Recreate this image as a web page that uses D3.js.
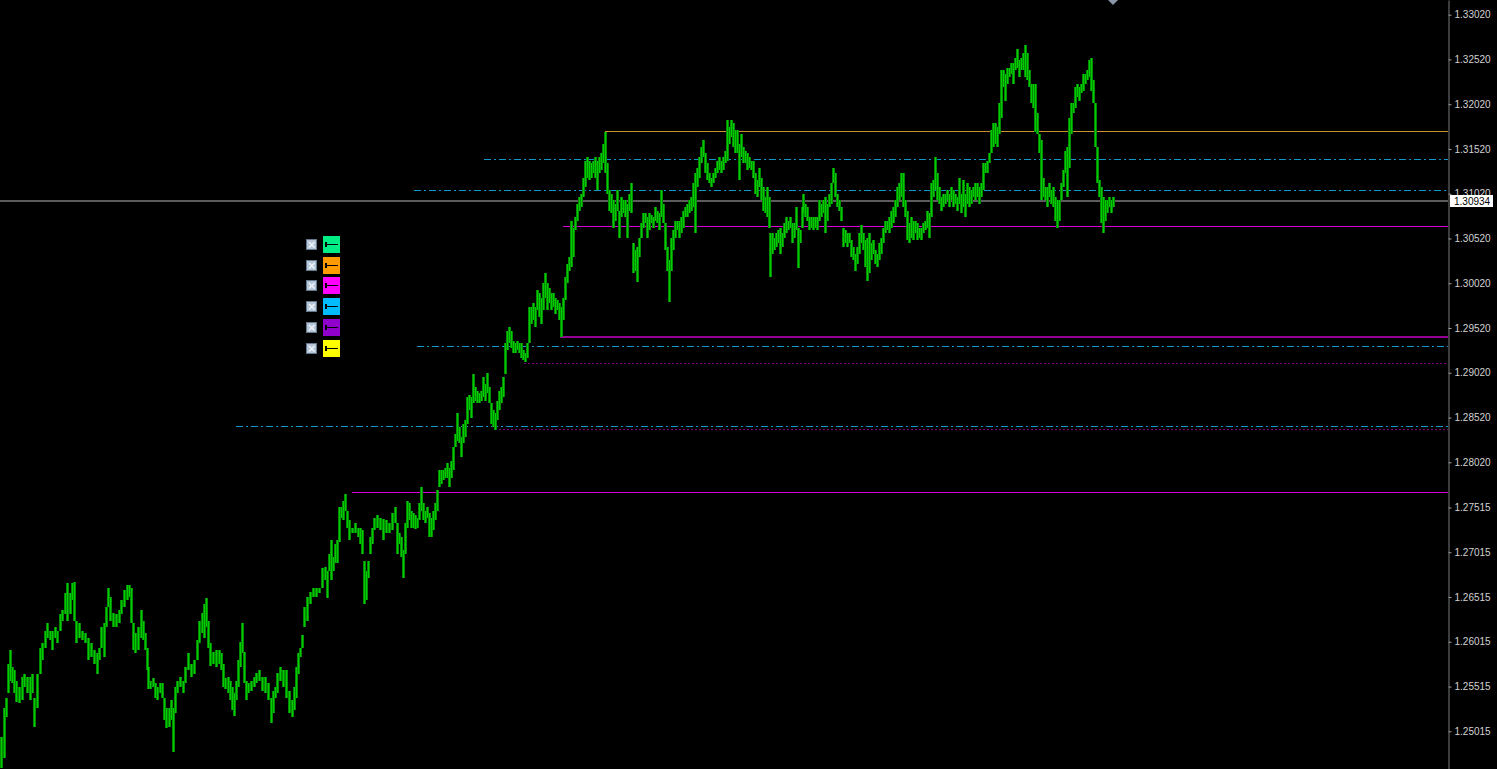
<!DOCTYPE html>
<html>
<head>
<meta charset="utf-8">
<script src="https://cdn.jsdelivr.net/npm/d3@7"></script>
<style>
  html, body { margin: 0; padding: 0; background: #000; overflow: hidden; }
  svg { display: block; }
</style>
</head>
<body>
<script>
// bar times (bar offset from the left edge of the window), highs and lows
var barTime = [
  1,4,6,8,10,12,14,16,19,22,
  24,27,30,32,34,37,40,42,45,47,
  50,52,55,57,60,62,65,67,70,72,
  74,76,79,82,85,88,91,94,97,99,
  101,104,106,108,110,113,116,119,121,124,
  127,129,131,133,135,138,141,143,145,147,
  148,150,153,155,157,160,162,164,166,169,
  171,173,175,177,180,183,185,188,191,194,
  197,199,202,204,206,208,210,213,216,219,
  221,223,225,228,230,232,234,236,238,240,
  242,244,246,248,251,254,256,259,262,265,
  268,271,273,275,277,280,283,286,289,292,
  294,296,298,300,302,304,307,310,313,316,
  319,322,325,327,329,331,333,335,337,339,
  341,343,345,347,349,352,355,358,
  360,362,364,366,368,370,372,374,377,380,
  383,386,389,392,395,397,399,401,403,405,
  407,409,411,413,415,417,419,421,423,425,
  427,429,431,433,435,437,439,441,443,445,
  447,449,451,453,455,457,459,461,463,465,
  467,469,471,473,475,477,479,481,483,485,
  487,489,491,493,495,497,499,501,503,505,
  507,509,511,513,515,517,519,521,523,525,
  527,529,531,533,535,537,539,541,543,545,
  547,549,551,553,555,557,559,561,563,565,
  567,569,571,573,575,577,579,581,583,585,
  587,589,591,593,595,597,599,601,603,605,
  607,609,611,613,615,617,619,621,623,625,
  627,629,631,633,635,637,639,641,643,645,
  647,649,651,653,655,657,659,661,663,665,
  667,669,671,673,675,677,679,681,683,685,
  687,689,691,693,695,697,699,701,703,705,
  707,709,711,713,715,717,719,721,723,725,
  727,729,731,733,735,737,739,741,743,745,
  747,749,751,753,755,757,759,761,763,765,
  767,769,770,772,774,776,778,780,782,784,
  786,788,790,792,794,796,798,800,802,803,
  805,807,809,811,813,815,817,819,821,823,
  825,827,829,831,833,835,837,839,841,843,
  845,847,849,851,853,855,857,859,861,863,
  865,867,869,871,873,875,877,879,881,883,
  885,887,889,891,893,895,897,899,901,903,
  905,907,909,911,913,915,917,919,921,923,
  925,927,929,931,933,935,937,939,941,943,
  945,947,949,951,953,955,957,959,961,963,
  965,967,969,971,973,975,977,979,981,983,
  985,987,989,991,993,995,997,999,1001,1003,
  1005,1007,1009,1011,1013,1015,1017,1019,1021,1023,
  1025,1027,1029,1031,1033,1035,1037,1039,1041,1043,
  1045,1047,1049,1051,1053,1055,1057,1059,1061,1063,
  1065,1067,1069,1071,1073,1075,1077,1079,1081,1083,
  1085,1087,1089,1091,1093,1095,1097,1099,1101,1103,
  1105,1107,1109,1111,1113
];

var barHigh = [
  1.2495,1.2528,1.2539,1.2577,1.2592,1.2573,1.2570,1.2558,1.2551,1.2562,
  1.2566,1.2562,1.2562,1.2566,1.2539,1.2566,1.2595,1.2600,1.2614,1.2622,
  1.2614,1.2614,1.2618,1.2614,1.2633,1.2637,1.2656,1.2667,1.2656,1.2667,
  1.2668,1.2625,1.2622,1.2614,1.2611,1.2606,1.2600,1.2592,1.2589,1.2595,
  1.2618,1.2622,1.2640,1.2662,1.2651,1.2634,1.2633,1.2637,1.2648,1.2659,
  1.2665,1.2665,1.2662,1.2622,1.2611,1.2618,1.2637,1.2625,1.2611,1.2595,
  1.2573,1.2558,1.2561,1.2555,1.2551,1.2556,1.2556,1.2539,1.2528,1.2528,
  1.2536,1.2528,1.2551,1.2558,1.2562,1.2558,1.2573,1.2589,1.2577,1.2581,
  1.2603,1.2625,1.2634,1.2644,1.2650,1.2625,1.2600,1.2590,1.2592,1.2592,
  1.2589,1.2577,1.2561,1.2562,1.2558,1.2551,1.2544,1.2558,1.2581,1.2601,
  1.2623,1.2590,1.2558,1.2556,1.2558,1.2562,1.2567,1.2570,1.2562,1.2562,
  1.2555,1.2539,1.2547,1.2551,1.2567,1.2573,1.2570,1.2570,1.2547,1.2536,
  1.2551,1.2573,1.2589,1.2595,1.2609,1.2640,1.2651,1.2657,1.2662,1.2662,
  1.2662,1.2684,1.2685,1.2681,1.2700,1.2715,1.2696,1.2711,1.2715,1.2752,
  1.2752,1.2759,1.2767,1.2748,1.2737,1.2729,1.2734,1.2729,
  1.2729,1.2726,1.2692,1.2681,1.2692,1.2718,1.2729,1.2740,1.2743,1.2740,
  1.2739,1.2737,1.2734,1.2745,1.2752,1.2734,1.2723,1.2718,1.2704,1.2734,
  1.2759,1.2756,1.2748,1.2745,1.2743,1.2740,1.2756,1.2774,1.2756,1.2748,
  1.2752,1.2745,1.2740,1.2748,1.2756,1.2771,1.2793,1.2793,1.2793,1.2796,
  1.2801,1.2796,1.2804,1.2819,1.2834,1.2857,1.2841,1.2830,1.2845,1.2849,
  1.2875,1.2877,1.2875,1.2901,1.2886,1.2882,1.2879,1.2882,1.2897,1.2890,
  1.2902,1.2886,1.2868,1.2860,1.2857,1.2871,1.2882,1.2886,1.2897,1.2935,
  1.2949,1.2953,1.2949,1.2938,1.2935,1.2938,1.2935,1.2935,1.2927,1.2924,
  1.2935,1.2975,1.2975,1.2980,1.2975,1.2994,1.2991,1.2986,1.3002,1.3013,
  1.3002,1.2997,1.2991,1.2991,1.2986,1.2983,1.2980,1.2975,1.2986,1.3009,
  1.3024,1.3031,1.3072,1.3064,1.3076,1.3091,1.3098,1.3102,1.3120,1.3139,
  1.3143,1.3139,1.3136,1.3139,1.3143,1.3139,1.3143,1.3147,1.3158,1.3171,
  1.3136,1.3106,1.3102,1.3095,1.3091,1.3106,1.3083,1.3098,1.3095,1.3095,
  1.3091,1.3102,1.3114,1.3047,1.3039,1.3042,1.3053,1.3069,1.3080,1.3080,
  1.3076,1.3080,1.3078,1.3076,1.3087,1.3083,1.3080,1.3106,1.3091,1.3069,
  1.3042,1.3028,1.3053,1.3061,1.3072,1.3072,1.3072,1.3076,1.3083,1.3087,
  1.3091,1.3095,1.3098,1.3114,1.3125,1.3131,1.3143,1.3154,1.3162,1.3147,
  1.3136,1.3125,1.3120,1.3125,1.3131,1.3139,1.3143,1.3139,1.3143,1.3150,
  1.3184,1.3176,1.3184,1.3181,1.3173,1.3173,1.3158,1.3169,1.3154,1.3150,
  1.3147,1.3143,1.3139,1.3139,1.3125,1.3117,1.3131,1.3120,1.3109,1.3098,
  1.3109,1.3098,1.3058,1.3058,1.3053,1.3058,1.3061,1.3064,1.3058,1.3069,
  1.3076,1.3072,1.3076,1.3069,1.3069,1.3087,1.3064,1.3061,1.3087,1.3102,
  1.3091,1.3087,1.3076,1.3076,1.3076,1.3076,1.3076,1.3095,1.3091,1.3095,
  1.3098,1.3091,1.3102,1.3114,1.3131,1.3125,1.3102,1.3095,1.3087,1.3064,
  1.3061,1.3058,1.3058,1.3050,1.3042,1.3035,1.3042,1.3058,1.3067,1.3058,
  1.3050,1.3053,1.3058,1.3047,1.3050,1.3039,1.3035,1.3047,1.3053,1.3064,
  1.3072,1.3072,1.3076,1.3083,1.3087,1.3095,1.3109,1.3114,1.3125,1.3125,
  1.3095,1.3083,1.3069,1.3076,1.3072,1.3072,1.3069,1.3064,1.3064,1.3069,
  1.3072,1.3083,1.3080,1.3114,1.3117,1.3143,1.3125,1.3109,1.3098,1.3102,
  1.3102,1.3106,1.3102,1.3109,1.3106,1.3102,1.3098,1.3120,1.3102,1.3117,
  1.3102,1.3114,1.3109,1.3106,1.3109,1.3114,1.3114,1.3109,1.3114,1.3136,
  1.3136,1.3139,1.3147,1.3173,1.3181,1.3181,1.3176,1.3203,1.3240,1.3240,
  1.3236,1.3243,1.3243,1.3248,1.3248,1.3254,1.3264,1.3251,1.3254,1.3259,
  1.3268,1.3259,1.3240,1.3225,1.3225,1.3225,1.3192,1.3169,1.3162,1.3120,
  1.3109,1.3109,1.3114,1.3106,1.3109,1.3098,1.3095,1.3095,1.3114,1.3128,
  1.3150,1.3154,1.3187,1.3203,1.3203,1.3221,1.3225,1.3221,1.3225,1.3236,
  1.3236,1.3240,1.3251,1.3254,1.3229,1.3203,1.3154,1.3117,1.3109,1.3098,
  1.3095,1.3095,1.3098,1.3095,1.3098
];

var barLow = [
  1.2461,1.2472,1.2517,1.2544,1.2558,1.2555,1.2544,1.2534,1.2533,1.2536,
  1.2551,1.2544,1.2536,1.2544,1.2506,1.2528,1.2566,1.2581,1.2595,1.2606,
  1.2603,1.2592,1.2606,1.2600,1.2614,1.2625,1.2633,1.2625,1.2633,1.2648,
  1.2625,1.2600,1.2606,1.2603,1.2600,1.2581,1.2584,1.2577,1.2566,1.2581,
  1.2595,1.2584,1.2618,1.2640,1.2625,1.2618,1.2618,1.2622,1.2633,1.2640,
  1.2648,1.2651,1.2622,1.2592,1.2589,1.2592,1.2606,1.2603,1.2592,1.2570,
  1.2549,1.2549,1.2551,1.2539,1.2536,1.2544,1.2539,1.2514,1.2505,1.2506,
  1.2514,1.2478,1.2522,1.2544,1.2551,1.2544,1.2555,1.2570,1.2562,1.2566,
  1.2581,1.2600,1.2611,1.2606,1.2618,1.2595,1.2575,1.2577,1.2573,1.2577,
  1.2570,1.2551,1.2549,1.2544,1.2536,1.2525,1.2519,1.2536,1.2551,1.2573,
  1.2589,1.2555,1.2536,1.2544,1.2547,1.2551,1.2555,1.2558,1.2547,1.2544,
  1.2536,1.2511,1.2522,1.2539,1.2544,1.2558,1.2551,1.2539,1.2522,1.2517,
  1.2525,1.2539,1.2566,1.2584,1.2595,1.2618,1.2625,1.2644,1.2651,1.2651,
  1.2656,1.2662,1.2670,1.2650,1.2681,1.2670,1.2681,1.2689,1.2689,1.2713,
  1.2740,1.2737,1.2748,1.2729,1.2715,1.2723,1.2723,1.2718,
  1.2711,1.2700,1.2644,1.2648,1.2673,1.2700,1.2711,1.2726,1.2729,1.2726,
  1.2715,1.2723,1.2723,1.2726,1.2734,1.2700,1.2711,1.2696,1.2673,1.2700,
  1.2729,1.2737,1.2729,1.2729,1.2728,1.2729,1.2737,1.2748,1.2737,1.2734,
  1.2740,1.2718,1.2718,1.2726,1.2737,1.2748,1.2774,1.2778,1.2782,1.2785,
  1.2785,1.2774,1.2785,1.2793,1.2819,1.2826,1.2823,1.2808,1.2823,1.2830,
  1.2845,1.2860,1.2852,1.2868,1.2871,1.2868,1.2868,1.2871,1.2875,1.2871,
  1.2879,1.2868,1.2845,1.2841,1.2838,1.2849,1.2860,1.2868,1.2875,1.2901,
  1.2927,1.2935,1.2930,1.2924,1.2924,1.2927,1.2924,1.2919,1.2916,1.2914,
  1.2919,1.2935,1.2957,1.2961,1.2953,1.2972,1.2964,1.2957,1.2972,1.2986,
  1.2972,1.2980,1.2972,1.2975,1.2968,1.2972,1.2961,1.2942,1.2961,1.2983,
  1.3002,1.3016,1.3020,1.3031,1.3061,1.3072,1.3083,1.3087,1.3098,1.3109,
  1.3120,1.3117,1.3120,1.3125,1.3120,1.3106,1.3125,1.3128,1.3136,1.3125,
  1.3102,1.3083,1.3080,1.3064,1.3072,1.3083,1.3053,1.3076,1.3080,1.3076,
  1.3053,1.3083,1.3080,1.3013,1.3016,1.3003,1.3031,1.3053,1.3064,1.3069,
  1.3053,1.3061,1.3069,1.3064,1.3072,1.3069,1.3061,1.3076,1.3069,1.3039,
  1.3016,1.2981,1.3016,1.3039,1.3053,1.3061,1.3053,1.3058,1.3064,1.3076,
  1.3076,1.3080,1.3083,1.3087,1.3058,1.3109,1.3120,1.3136,1.3143,1.3125,
  1.3117,1.3114,1.3109,1.3114,1.3120,1.3125,1.3128,1.3125,1.3128,1.3136,
  1.3139,1.3158,1.3165,1.3154,1.3147,1.3147,1.3117,1.3143,1.3136,1.3136,
  1.3128,1.3131,1.3128,1.3120,1.3102,1.3098,1.3109,1.3095,1.3083,1.3080,
  1.3076,1.3064,1.3009,1.3035,1.3039,1.3042,1.3047,1.3035,1.3042,1.3053,
  1.3058,1.3061,1.3064,1.3047,1.3053,1.3061,1.3019,1.3047,1.3064,1.3080,
  1.3076,1.3072,1.3061,1.3064,1.3061,1.3064,1.3061,1.3072,1.3076,1.3080,
  1.3058,1.3072,1.3087,1.3091,1.3114,1.3098,1.3087,1.3083,1.3072,1.3042,
  1.3047,1.3042,1.3047,1.3031,1.3028,1.3016,1.3024,1.3035,1.3047,1.3039,
  1.3020,1.3005,1.3013,1.3028,1.3035,1.3024,1.3020,1.3028,1.3035,1.3047,
  1.3058,1.3061,1.3058,1.3064,1.3069,1.3076,1.3087,1.3095,1.3098,1.3087,
  1.3076,1.3050,1.3047,1.3053,1.3050,1.3058,1.3050,1.3053,1.3050,1.3058,
  1.3061,1.3064,1.3053,1.3076,1.3098,1.3106,1.3095,1.3091,1.3083,1.3087,
  1.3091,1.3095,1.3087,1.3095,1.3087,1.3091,1.3083,1.3091,1.3080,1.3087,
  1.3076,1.3091,1.3087,1.3091,1.3098,1.3095,1.3098,1.3091,1.3098,1.3106,
  1.3125,1.3125,1.3136,1.3147,1.3154,1.3158,1.3154,1.3169,1.3187,1.3221,
  1.3206,1.3225,1.3232,1.3236,1.3225,1.3240,1.3243,1.3232,1.3240,1.3240,
  1.3232,1.3229,1.3221,1.3203,1.3198,1.3171,1.3169,1.3147,1.3095,1.3098,
  1.3095,1.3087,1.3098,1.3091,1.3087,1.3072,1.3064,1.3072,1.3095,1.3109,
  1.3125,1.3098,1.3131,1.3169,1.3192,1.3198,1.3210,1.3206,1.3214,1.3217,
  1.3225,1.3229,1.3232,1.3217,1.3203,1.3154,1.3114,1.3098,1.3069,1.3058,
  1.3072,1.3080,1.3087,1.3080,1.3087
];

var lastPrice = 1.30934;

var tickLabels = ["1.33020", "1.32520", "1.32020", "1.31520", "1.31020", "1.30520",
  "1.30020", "1.29520", "1.29020", "1.28520", "1.28020", "1.27515", "1.27015",
  "1.26515", "1.26015", "1.25515", "1.25015"];

// horizontal levels: price, bar they start from, kind
var levelPrice = [1.31718, 1.31405, 1.31058, 1.30654, 1.29425, 1.29316, 1.29129, 1.28429, 1.28392, 1.27688];
var levelFrom = [605, 484, 414, 563, 560, 417, 524, 236, 495, 352];
var levelKind = ["gold", "dashdot", "dashdot", "magenta", "purple", "dashdot", "dotted", "dashdot", "dotted", "magenta"];

var legendColors = ["#00ee84", "#ff9a00", "#ff00ff", "#00bcff", "#9000cc", "#ffff00"];

var levelStyle = {
  gold:    { color: "#c8922c", dash: null, width: 1 },
  dashdot: { color: "#1198c8", dash: "7,3,2,3", width: 1 },
  magenta: { color: "#d400d4", dash: null, width: 1 },
  purple:  { color: "#940094", dash: null, width: 2 },
  dotted:  { color: "#7a007a", dash: "2,2", width: 1 }
};

var width = 1497, height = 769, plotW = 1448;

var svg = d3.select('body').append('svg')
  .attr('width', width).attr('height', height)
  .style('background', '#000');

var x = d3.scaleLinear().domain([0, plotW]).range([0, plotW]);
var y = d3.scaleLinear().domain([1.24594, 1.33184]).range([height, 0]);

var bars = barTime.map(function (t, i) {
  return { t: t, high: barHigh[i], low: barLow[i] };
});

function lineY(v, w) {
  // keep 1px lines on the pixel centre and 2px lines on the pixel edge
  return Math.round(y(v)) + (w % 2 ? 0.5 : 0);
}

// current price line
svg.append('line')
  .attr('class', 'bid')
  .attr('x1', 0).attr('x2', plotW)
  .attr('y1', lineY(lastPrice, 2)).attr('y2', lineY(lastPrice, 2))
  .attr('stroke', '#5c5c5c').attr('stroke-width', 2);

// level lines
svg.append('g').selectAll('line')
  .data(levelPrice)
  .enter()
  .append('line')
  .attr('x1', function (d, i) { return x(levelFrom[i]); })
  .attr('x2', plotW)
  .attr('y1', function (d, i) { return lineY(d, levelStyle[levelKind[i]].width); })
  .attr('y2', function (d, i) { return lineY(d, levelStyle[levelKind[i]].width); })
  .attr('stroke', function (d, i) { return levelStyle[levelKind[i]].color; })
  .attr('stroke-dasharray', function (d, i) { return levelStyle[levelKind[i]].dash; })
  .attr('stroke-width', function (d, i) { return levelStyle[levelKind[i]].width; });

// price bars, two tones like the terminal draws them
var barG = svg.append('g');
barG.selectAll('rect.dim')
  .data(bars)
  .enter()
  .append('rect')
  .attr('class', 'dim')
  .attr('x', function (d) { return Math.round(x(d.t)) - 1; })
  .attr('width', 3)
  .attr('y', function (d) { return Math.round(y(d.high)); })
  .attr('height', function (d) { return Math.max(1, Math.round(y(d.low)) - Math.round(y(d.high))); })
  .attr('fill', '#008a00');
barG.selectAll('rect.lit')
  .data(bars)
  .enter()
  .append('rect')
  .attr('class', 'lit')
  .attr('x', function (d) { return Math.round(x(d.t)); })
  .attr('width', 1)
  .attr('y', function (d) { return Math.round(y(d.high)); })
  .attr('height', function (d) { return Math.max(1, Math.round(y(d.low)) - Math.round(y(d.high))); })
  .attr('fill', '#00cc00');

// price axis
var axis = d3.axisRight(y)
  .tickValues(tickLabels.map(Number))
  .tickFormat(function (d, i) { return tickLabels[i]; })
  .tickSize(3)
  .tickSizeOuter(0);

var axisG = svg.append('g')
  .attr('transform', 'translate(' + (plotW + 0.5) + ',0)')
  .call(axis);
axisG.select('.domain').attr('stroke', '#7a7a7a');
axisG.selectAll('.tick line').attr('stroke', '#9a9a9a');
axisG.selectAll('.tick text')
  .attr('fill', '#d2d2d2')
  .attr('x', 6)
  .style('font-family', '"Liberation Sans", Arial, sans-serif')
  .style('font-size', '10px');

// current price tag
var tagY = y(lastPrice);
svg.append('rect')
  .attr('x', plotW + 2).attr('y', Math.round(tagY) - 6)
  .attr('width', 43).attr('height', 12)
  .attr('fill', '#ffffff');
svg.append('text')
  .attr('x', plotW + 6).attr('y', Math.round(tagY) + 4)
  .attr('fill', '#000')
  .style('font-family', '"Liberation Sans", Arial, sans-serif')
  .style('font-size', '10px')
  .text(d3.format('.5f')(lastPrice));

// shift marker at the top
var mx = Math.round(x(barTime[barTime.length - 1]));
svg.append('path')
  .attr('d', 'M' + (mx - 5) + ',0 L' + (mx + 5) + ',0 L' + mx + ',5 Z')
  .attr('fill', '#8797a8');

// object buttons on the left
var legend = svg.append('g');
var rows = legend.selectAll('g')
  .data(legendColors)
  .enter()
  .append('g')
  .attr('transform', function (d, i) { return 'translate(0,' + Math.round(236 + i * 20.7) + ')'; });

rows.append('rect')
  .attr('x', 306.5).attr('y', 3.5)
  .attr('width', 10).attr('height', 10)
  .attr('fill', '#b4c6d8').attr('stroke', '#66798c');
rows.append('path')
  .attr('d', 'M309,6 L314.5,11.5 M314.5,6 L309,11.5')
  .attr('stroke', '#eef3f8').attr('stroke-width', 1.6);

rows.append('rect')
  .attr('x', 323).attr('y', 0)
  .attr('width', 17).attr('height', 17)
  .attr('fill', function (d) { return d; });
rows.append('rect')
  .attr('x', 325).attr('y', 6)
  .attr('width', 2).attr('height', 5)
  .attr('fill', '#000');
rows.append('line')
  .attr('x1', 327).attr('x2', 338)
  .attr('y1', 8.5).attr('y2', 8.5)
  .attr('stroke', '#000').attr('stroke-width', 1);
</script>
</body>
</html>
